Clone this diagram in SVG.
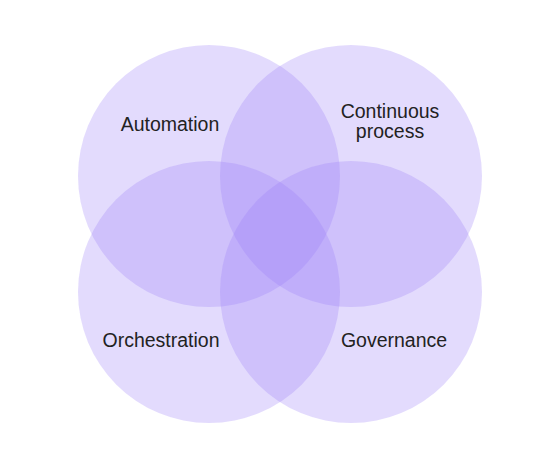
<svg xmlns="http://www.w3.org/2000/svg" width="560" height="460" viewBox="0 0 560 460">
  <style>
    .set { fill: #9b7cf7; fill-opacity: 0.28; }
    .lbl { font-family: "Liberation Sans", Arial, sans-serif; font-size: 19.5px; fill: #222222; text-anchor: middle; }
  </style>
  <rect width="560" height="460" fill="#ffffff"/>
  <g id="automation">
    <circle class="set" cx="209" cy="176" r="131"/>
    <text class="lbl" x="170" y="131">Automation</text>
  </g>
  <g id="continuous-process">
    <circle class="set" cx="351" cy="176" r="131"/>
    <text class="lbl" x="390" y="118">Continuous</text>
    <text class="lbl" x="390" y="138">process</text>
  </g>
  <g id="orchestration">
    <circle class="set" cx="209" cy="292" r="131"/>
    <text class="lbl" x="161" y="347">Orchestration</text>
  </g>
  <g id="governance">
    <circle class="set" cx="351" cy="292" r="131"/>
    <text class="lbl" x="394" y="347">Governance</text>
  </g>
  <g id="connectors"/>
</svg>
